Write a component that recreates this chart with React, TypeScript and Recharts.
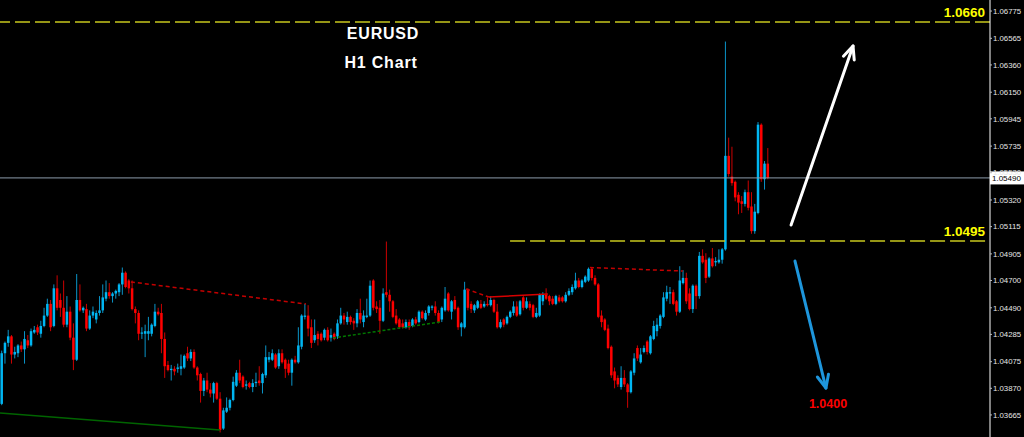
import React from 'react';
import { ComposedChart, Bar, XAxis, YAxis, ReferenceLine } from 'recharts';

// EURUSD H1 candles (oldest first)
const opens = [
  1.0375, 1.0414, 1.0422, 1.0427, 1.0413, 1.0414, 1.0420, 1.0417, 1.0424, 1.0420,
  1.0430, 1.0434, 1.0429, 1.0435, 1.0443, 1.0452, 1.0435, 1.0464, 1.0455, 1.0449,
  1.0436, 1.0446, 1.0426, 1.0409, 1.0455, 1.0447, 1.0448, 1.0433, 1.0443, 1.0440,
  1.0445, 1.0447, 1.0456, 1.0461, 1.0458, 1.0460, 1.0461, 1.0467, 1.0476, 1.0470,
  1.0464, 1.0448, 1.0445, 1.0429, 1.0429, 1.0429, 1.0429, 1.0435, 1.0446, 1.0445,
  1.0425, 1.0405, 1.0401, 1.0402, 1.0402, 1.0402, 1.0403, 1.0414, 1.0410, 1.0415,
  1.0403, 1.0398, 1.0385, 1.0393, 1.0386, 1.0383, 1.0391, 1.0379, 1.0356, 1.0369,
  1.0372, 1.0378, 1.0389, 1.0399, 1.0396, 1.0389, 1.0391, 1.0388, 1.0391, 1.0393,
  1.0391, 1.0397, 1.0409, 1.0409, 1.0413, 1.0404, 1.0414, 1.0409, 1.0406, 1.0399,
  1.0409, 1.0407, 1.0419, 1.0442, 1.0443, 1.0434, 1.0424, 1.0429, 1.0429, 1.0426,
  1.0432, 1.0426, 1.0429, 1.0427, 1.0437, 1.0443, 1.0438, 1.0442, 1.0439, 1.0437,
  1.0445, 1.0438, 1.0442, 1.0443, 1.0470, 1.0450, 1.0449, 1.0439, 1.0461, 1.0459,
  1.0454, 1.0443, 1.0440, 1.0437, 1.0434, 1.0438, 1.0435, 1.0440, 1.0438, 1.0446,
  1.0440, 1.0445, 1.0449, 1.0450, 1.0445, 1.0440, 1.0447, 1.0460, 1.0446, 1.0455,
  1.0449, 1.0434, 1.0434, 1.0463, 1.0452, 1.0447, 1.0449, 1.0452, 1.0450, 1.0452,
  1.0451, 1.0455, 1.0446, 1.0434, 1.0440, 1.0437, 1.0442, 1.0445, 1.0450, 1.0444,
  1.0457, 1.0449, 1.0452, 1.0451, 1.0442, 1.0443, 1.0454, 1.0459, 1.0458, 1.0456,
  1.0452, 1.0457, 1.0457, 1.0454, 1.0459, 1.0461, 1.0464, 1.0470, 1.0465, 1.0469,
  1.0470, 1.0479, 1.0472, 1.0467, 1.0443, 1.0440, 1.0433, 1.0419, 1.0400, 1.0395,
  1.0388, 1.0395, 1.0390, 1.0384, 1.0399, 1.0418, 1.0407, 1.0415, 1.0423, 1.0414,
  1.0425, 1.0431, 1.0435, 1.0442, 1.0456, 1.0460, 1.0461, 1.0454, 1.0446, 1.0468,
  1.0472, 1.0460, 1.0448, 1.0466, 1.0458, 1.0489, 1.0486, 1.0473, 1.0487, 1.0484,
  1.0484, 1.0486, 1.0494, 1.0566, 1.0550, 1.0546, 1.0536, 1.0531, 1.0529, 1.0538,
  1.0527, 1.0508, 1.0522, 1.0590, 1.0548, 1.0560,
];
const highs = [
  1.0416, 1.0423, 1.0432, 1.0428, 1.0419, 1.0421, 1.0423, 1.0431, 1.0428, 1.0433,
  1.0435, 1.0436, 1.0439, 1.0449, 1.0456, 1.0455, 1.0467, 1.0474, 1.0460, 1.0470,
  1.0458, 1.0450, 1.0437, 1.0475, 1.0467, 1.0450, 1.0452, 1.0447, 1.0450, 1.0447,
  1.0458, 1.0467, 1.0470, 1.0468, 1.0461, 1.0463, 1.0468, 1.0480, 1.0477, 1.0471,
  1.0470, 1.0450, 1.0447, 1.0434, 1.0436, 1.0442, 1.0437, 1.0452, 1.0449, 1.0452,
  1.0430, 1.0408, 1.0405, 1.0404, 1.0406, 1.0413, 1.0413, 1.0419, 1.0417, 1.0417,
  1.0404, 1.0399, 1.0395, 1.0399, 1.0391, 1.0392, 1.0392, 1.0384, 1.0372, 1.0380,
  1.0379, 1.0396, 1.0401, 1.0409, 1.0397, 1.0393, 1.0392, 1.0394, 1.0399, 1.0404,
  1.0399, 1.0420, 1.0415, 1.0417, 1.0414, 1.0417, 1.0417, 1.0410, 1.0409, 1.0410,
  1.0412, 1.0434, 1.0444, 1.0452, 1.0451, 1.0440, 1.0440, 1.0431, 1.0430, 1.0433,
  1.0434, 1.0433, 1.0430, 1.0440, 1.0449, 1.0445, 1.0446, 1.0443, 1.0441, 1.0448,
  1.0456, 1.0447, 1.0456, 1.0470, 1.0471, 1.0454, 1.0455, 1.0464, 1.0500, 1.0463,
  1.0455, 1.0448, 1.0441, 1.0440, 1.0440, 1.0440, 1.0441, 1.0442, 1.0447, 1.0447,
  1.0447, 1.0451, 1.0451, 1.0454, 1.0447, 1.0450, 1.0465, 1.0461, 1.0455, 1.0458,
  1.0450, 1.0438, 1.0469, 1.0464, 1.0454, 1.0452, 1.0455, 1.0455, 1.0454, 1.0457,
  1.0458, 1.0456, 1.0452, 1.0440, 1.0441, 1.0443, 1.0447, 1.0454, 1.0454, 1.0455,
  1.0458, 1.0457, 1.0454, 1.0452, 1.0449, 1.0460, 1.0461, 1.0464, 1.0459, 1.0458,
  1.0459, 1.0459, 1.0458, 1.0461, 1.0464, 1.0467, 1.0476, 1.0472, 1.0471, 1.0474,
  1.0480, 1.0480, 1.0474, 1.0468, 1.0447, 1.0441, 1.0436, 1.0420, 1.0403, 1.0397,
  1.0404, 1.0401, 1.0391, 1.0401, 1.0414, 1.0420, 1.0418, 1.0420, 1.0424, 1.0428,
  1.0439, 1.0441, 1.0444, 1.0461, 1.0466, 1.0465, 1.0463, 1.0455, 1.0481, 1.0478,
  1.0476, 1.0464, 1.0467, 1.0467, 1.0492, 1.0494, 1.0491, 1.0488, 1.0495, 1.0488,
  1.0494, 1.0495, 1.0654, 1.0580, 1.0573, 1.0547, 1.0538, 1.0535, 1.0540, 1.0547,
  1.0538, 1.0529, 1.0592, 1.0591, 1.0562, 1.0572,
];
const lows = [
  1.0374, 1.0406, 1.0419, 1.0406, 1.0410, 1.0411, 1.0415, 1.0406, 1.0418, 1.0419,
  1.0429, 1.0428, 1.0426, 1.0434, 1.0442, 1.0431, 1.0434, 1.0447, 1.0442, 1.0434,
  1.0434, 1.0424, 1.0401, 1.0408, 1.0446, 1.0445, 1.0431, 1.0432, 1.0441, 1.0437,
  1.0443, 1.0445, 1.0454, 1.0456, 1.0453, 1.0456, 1.0458, 1.0459, 1.0464, 1.0460,
  1.0447, 1.0437, 1.0424, 1.0425, 1.0411, 1.0424, 1.0427, 1.0434, 1.0443, 1.0414,
  1.0395, 1.0400, 1.0393, 1.0397, 1.0399, 1.0397, 1.0402, 1.0408, 1.0408, 1.0402,
  1.0393, 1.0376, 1.0381, 1.0384, 1.0380, 1.0376, 1.0378, 1.0353, 1.0355, 1.0368,
  1.0370, 1.0377, 1.0388, 1.0391, 1.0387, 1.0386, 1.0387, 1.0384, 1.0388, 1.0389,
  1.0383, 1.0395, 1.0407, 1.0408, 1.0402, 1.0402, 1.0406, 1.0395, 1.0397, 1.0389,
  1.0406, 1.0406, 1.0417, 1.0440, 1.0427, 1.0418, 1.0422, 1.0420, 1.0423, 1.0424,
  1.0423, 1.0423, 1.0424, 1.0425, 1.0436, 1.0436, 1.0436, 1.0436, 1.0432, 1.0434,
  1.0437, 1.0434, 1.0441, 1.0442, 1.0447, 1.0445, 1.0429, 1.0438, 1.0457, 1.0446,
  1.0441, 1.0436, 1.0433, 1.0433, 1.0433, 1.0432, 1.0434, 1.0436, 1.0437, 1.0440,
  1.0439, 1.0443, 1.0447, 1.0443, 1.0437, 1.0438, 1.0446, 1.0446, 1.0440, 1.0447,
  1.0432, 1.0427, 1.0433, 1.0447, 1.0445, 1.0445, 1.0448, 1.0448, 1.0449, 1.0450,
  1.0450, 1.0445, 1.0433, 1.0433, 1.0434, 1.0436, 1.0441, 1.0443, 1.0442, 1.0443,
  1.0447, 1.0448, 1.0447, 1.0441, 1.0441, 1.0442, 1.0451, 1.0455, 1.0451, 1.0451,
  1.0451, 1.0453, 1.0453, 1.0453, 1.0458, 1.0459, 1.0463, 1.0464, 1.0464, 1.0468,
  1.0469, 1.0470, 1.0466, 1.0441, 1.0434, 1.0431, 1.0417, 1.0395, 1.0387, 1.0388,
  1.0386, 1.0388, 1.0372, 1.0383, 1.0397, 1.0408, 1.0406, 1.0414, 1.0413, 1.0413,
  1.0424, 1.0427, 1.0433, 1.0441, 1.0454, 1.0452, 1.0451, 1.0443, 1.0445, 1.0467,
  1.0452, 1.0447, 1.0445, 1.0448, 1.0456, 1.0483, 1.0468, 1.0472, 1.0480, 1.0481,
  1.0483, 1.0483, 1.0493, 1.0550, 1.0543, 1.0531, 1.0521, 1.0522, 1.0527, 1.0524,
  1.0506, 1.0506, 1.0521, 1.0546, 1.0540, 1.0548,
];
const closes = [
  1.0414, 1.0422, 1.0427, 1.0413, 1.0415, 1.0420, 1.0417, 1.0425, 1.0420, 1.0431,
  1.0432, 1.0430, 1.0435, 1.0443, 1.0452, 1.0434, 1.0464, 1.0449, 1.0449, 1.0436,
  1.0446, 1.0426, 1.0409, 1.0455, 1.0447, 1.0449, 1.0433, 1.0443, 1.0446, 1.0445,
  1.0447, 1.0457, 1.0461, 1.0458, 1.0460, 1.0462, 1.0467, 1.0476, 1.0465, 1.0464,
  1.0448, 1.0445, 1.0429, 1.0430, 1.0431, 1.0431, 1.0436, 1.0446, 1.0444, 1.0425,
  1.0404, 1.0401, 1.0402, 1.0400, 1.0403, 1.0404, 1.0412, 1.0410, 1.0415, 1.0403,
  1.0397, 1.0385, 1.0393, 1.0386, 1.0383, 1.0391, 1.0379, 1.0355, 1.0370, 1.0372,
  1.0378, 1.0392, 1.0399, 1.0393, 1.0388, 1.0390, 1.0388, 1.0391, 1.0392, 1.0391,
  1.0398, 1.0411, 1.0411, 1.0414, 1.0403, 1.0414, 1.0407, 1.0402, 1.0399, 1.0409,
  1.0407, 1.0420, 1.0443, 1.0443, 1.0433, 1.0422, 1.0428, 1.0425, 1.0424, 1.0432,
  1.0424, 1.0428, 1.0425, 1.0437, 1.0443, 1.0440, 1.0442, 1.0438, 1.0437, 1.0445,
  1.0440, 1.0443, 1.0443, 1.0466, 1.0449, 1.0448, 1.0439, 1.0460, 1.0459, 1.0454,
  1.0442, 1.0437, 1.0434, 1.0434, 1.0438, 1.0434, 1.0440, 1.0437, 1.0446, 1.0441,
  1.0445, 1.0450, 1.0450, 1.0445, 1.0438, 1.0449, 1.0456, 1.0447, 1.0454, 1.0448,
  1.0434, 1.0437, 1.0463, 1.0449, 1.0448, 1.0451, 1.0454, 1.0449, 1.0452, 1.0451,
  1.0455, 1.0446, 1.0434, 1.0438, 1.0436, 1.0442, 1.0446, 1.0450, 1.0443, 1.0454,
  1.0449, 1.0454, 1.0449, 1.0442, 1.0445, 1.0459, 1.0459, 1.0456, 1.0454, 1.0452,
  1.0458, 1.0454, 1.0454, 1.0459, 1.0462, 1.0465, 1.0470, 1.0465, 1.0470, 1.0473,
  1.0479, 1.0472, 1.0467, 1.0442, 1.0438, 1.0432, 1.0418, 1.0397, 1.0393, 1.0390,
  1.0395, 1.0390, 1.0384, 1.0400, 1.0410, 1.0410, 1.0413, 1.0418, 1.0415, 1.0427,
  1.0435, 1.0436, 1.0443, 1.0457, 1.0461, 1.0461, 1.0452, 1.0446, 1.0470, 1.0472,
  1.0454, 1.0448, 1.0466, 1.0458, 1.0489, 1.0484, 1.0472, 1.0487, 1.0481, 1.0485,
  1.0486, 1.0494, 1.0566, 1.0552, 1.0545, 1.0534, 1.0530, 1.0529, 1.0538, 1.0526,
  1.0508, 1.0523, 1.0590, 1.0548, 1.0560, 1.0549,
];

const priceTicks = [
  1.06775, 1.06565, 1.0636, 1.0615, 1.05945, 1.05735, 1.0553, 1.0532,
  1.05115, 1.04905, 1.047, 1.0449, 1.04285, 1.04075, 1.0387, 1.03665,
];

// hand-drawn objects on the chart: [bar index, price]
const trendLines = [
  { from: [40.7, 1.04689], to: [94.4, 1.04519], color: '#c40000', dash: '4 3' },
  { from: [143.5, 1.04635], to: [150.5, 1.04573], color: '#c40000', dash: '4 3' },
  { from: [150.5, 1.04573], to: [168.6, 1.04596], color: '#d80000', dash: undefined },
  { from: [181.5, 1.048], to: [210, 1.04773], color: '#c40000', dash: '4 3' },
  { from: [0.54, 1.0368], to: [68, 1.03549], color: '#006400', dash: undefined },
  { from: [102.7, 1.04257], to: [135.5, 1.04381], color: '#007800', dash: '3 2' },
];
const arrows = [
  { from: [243.2, 1.05127], to: [262.2, 1.06506], color: '#ffffff' },
  { from: [244.4, 1.0485], to: [253.9, 1.03872], color: '#1e96dc' },
];

const TARGET_UP = 1.06691;
const TARGET_MID = 1.05004;
const LAST_PRICE = 1.0549;

const bars = opens.map((open, k) => ({
  i: k + 1,
  open,
  high: highs[k],
  low: lows[k],
  close: closes[k],
}));

const UP = '#00b6f2';
const DOWN = '#ff0000';
const UP_WICK = '#0a94c8';
const DOWN_WICK = '#cc0000';
const AXIS_FONT = "'Liberation Sans Narrow', 'Liberation Sans', Arial, sans-serif";

const Candle = (props: any) => {
  const { x, y, width, height, payload } = props;
  if (x == null || y == null || !payload) return null;
  const { open, close, high, low } = payload;
  const top = Math.min(y, y + height);
  const bottom = Math.max(y, y + height);
  const span = high - low;
  const toPx = (v: number) => (span === 0 ? top : top + ((high - v) / span) * (bottom - top));
  const cx = x + width / 2;
  const up = close >= open;
  const bTop = toPx(Math.max(open, close));
  const bBot = toPx(Math.min(open, close));
  const bw = 2.5;
  return (
    <g>
      <line x1={cx} x2={cx} y1={top} y2={bottom} stroke={up ? UP_WICK : DOWN_WICK} strokeWidth={1} />
      <rect x={cx - bw / 2} y={bTop} width={bw} height={Math.max(bBot - bTop, 1)} fill={up ? UP : DOWN} />
    </g>
  );
};

const Arrow = (props: any) => {
  const { x1, y1, x2, y2, stroke } = props;
  const a = Math.atan2(y2 - y1, x2 - x1);
  const len = 14;
  const s = 0.42;
  const p1 = [x2 - len * Math.cos(a - s), y2 - len * Math.sin(a - s)];
  const p2 = [x2 - len * Math.cos(a + s), y2 - len * Math.sin(a + s)];
  return (
    <g fill="none" stroke={stroke} strokeWidth={3} strokeLinecap="round" strokeLinejoin="round">
      <line x1={x1} y1={y1} x2={x2} y2={y2} />
      <polyline points={`${p1[0]},${p1[1]} ${x2},${y2} ${p2[0]},${p2[1]}`} />
    </g>
  );
};

const PriceBox = (props: any) => {
  const { viewBox } = props;
  if (!viewBox) return null;
  const left = viewBox.x + viewBox.width;
  return (
    <g>
      <rect x={left} y={viewBox.y - 6.5} width={34} height={13} fill="#ffffff" />
      <text x={left + 2} y={viewBox.y + 3} fontSize={8} fill="#000" fontFamily={AXIS_FONT}>
        {LAST_PRICE.toFixed(5)}
      </text>
    </g>
  );
};

const levelLabel = (value: string) => ({
  value,
  position: 'insideBottomRight' as const,
  offset: 5,
  fill: '#ffff00',
  fontSize: 13.5,
  fontWeight: 'bold',
  fontFamily: 'Arial, "Liberation Sans", sans-serif',
});

const overlayText: React.CSSProperties = {
  position: 'absolute',
  fontFamily: 'Arial, "Liberation Sans", sans-serif',
  fontWeight: 'bold',
  whiteSpace: 'nowrap',
  transform: 'translate(-50%, -50%)',
  lineHeight: 1,
};

export default function App() {
  return (
    <div style={{ position: 'absolute', left: 0, top: 0, width: 1024, height: 437, background: '#000', overflow: 'hidden' }}>
      <ComposedChart width={1024} height={437} data={bars} margin={{ top: 0, right: 0, bottom: 0, left: 0 }}>
        <XAxis dataKey="i" type="number" domain={[0.54, 304.22]} allowDataOverflow hide />
        <YAxis
          orientation="right"
          type="number"
          width={34}
          domain={[1.03495, 1.0686]}
          allowDataOverflow
          ticks={priceTicks}
          interval={0}
          tickFormatter={(v) => Number(v).toFixed(5)}
          tick={{ fill: '#e6e6e6', fontSize: 7.8, fontFamily: AXIS_FONT, textAnchor: 'start' }}
          tickSize={2}
          tickMargin={1}
          stroke="#ffffff"
          tickLine={{ stroke: '#bbbbbb' }}
        />
        <ReferenceLine y={TARGET_UP} stroke="#c8c81e" strokeWidth={1.5} strokeDasharray="15 5" label={levelLabel('1.0660')} />
        <ReferenceLine
          segment={[{ x: 157, y: TARGET_MID }, { x: 304.22, y: TARGET_MID }]}
          stroke="#c8c81e"
          strokeWidth={1.5}
          strokeDasharray="15 5"
          label={levelLabel('1.0495')}
        />
        <Bar dataKey={(d: any) => [d.low, d.high]} shape={<Candle />} isAnimationActive={false} />
        {trendLines.map((t, k) => (
          <ReferenceLine
            key={`t${k}`}
            segment={[{ x: t.from[0], y: t.from[1] }, { x: t.to[0], y: t.to[1] }]}
            stroke={t.color}
            strokeWidth={1.5}
            strokeDasharray={t.dash}
          />
        ))}
        <ReferenceLine y={LAST_PRICE} stroke="#8c9bab" strokeWidth={1} label={<PriceBox />} />
        {arrows.map((a, k) => (
          <ReferenceLine
            key={`a${k}`}
            segment={[{ x: a.from[0], y: a.from[1] }, { x: a.to[0], y: a.to[1] }]}
            stroke={a.color}
            shape={(p: any) => <Arrow {...p} stroke={a.color} />}
          />
        ))}
      </ComposedChart>
      <div style={{ ...overlayText, left: 383, top: 34, fontSize: 16, letterSpacing: 0.8, color: '#fff' }}>EURUSD</div>
      <div style={{ ...overlayText, left: 381, top: 63, fontSize: 16, letterSpacing: 0.8, color: '#fff' }}>H1 Chart</div>
      <div style={{ ...overlayText, left: 828, top: 404, fontSize: 12.5, color: '#ff0000' }}>1.0400</div>
    </div>
  );
}
